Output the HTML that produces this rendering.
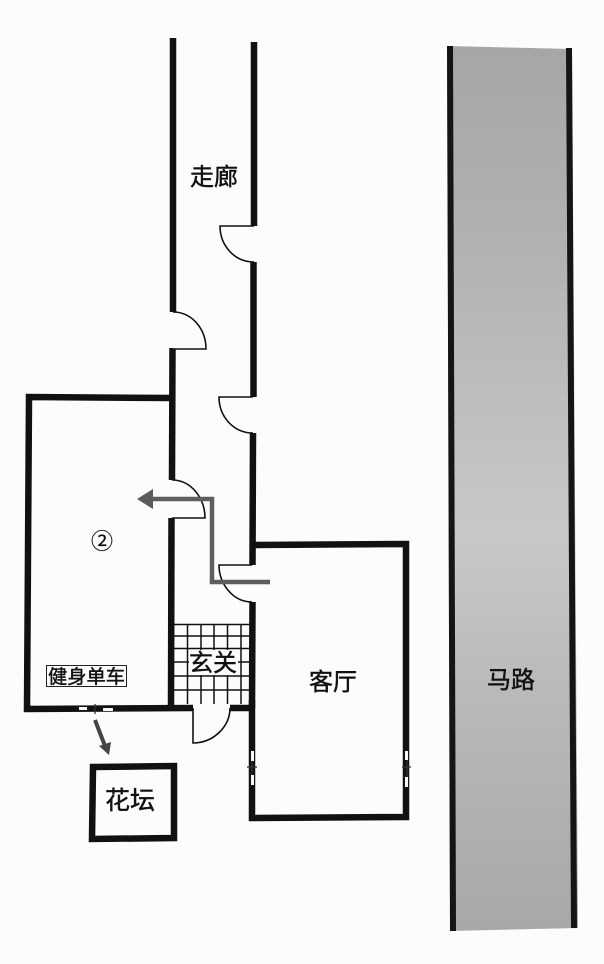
<!DOCTYPE html>
<html><head><meta charset="utf-8">
<style>
html,body{margin:0;padding:0;background:#fcfcfc;width:604px;height:964px;overflow:hidden}
svg{display:block}
text{font-family:"Liberation Sans","Noto Sans CJK SC",sans-serif;fill:#111;stroke:#111;stroke-width:.45px}
</style></head>
<body>
<svg width="604" height="964" viewBox="0 0 604 964" xmlns="http://www.w3.org/2000/svg">
<defs>
<linearGradient id="rd" x1="0" y1="0" x2="0" y2="1">
<stop offset="0" stop-color="#a6a6a6"/>
<stop offset="0.2" stop-color="#b0b0b0"/>
<stop offset="0.55" stop-color="#c8c8c8"/>
<stop offset="0.75" stop-color="#b8b8b8"/>
<stop offset="1" stop-color="#a8a8a8"/>
</linearGradient>
</defs>
<polygon points="447,46 572,49 578,928 450,931" fill="url(#rd)"/>
<g fill="none" stroke="#151515" stroke-width="6">
<line x1="450" y1="46" x2="453" y2="931"/>
<line x1="569" y1="48" x2="574" y2="928"/>
</g>
<!-- tiles -->
<g stroke="#111" stroke-width="1.5">
<line x1="187.5" y1="624" x2="187.5" y2="704"/><line x1="201" y1="624" x2="201" y2="704"/><line x1="214" y1="624" x2="214" y2="704"/><line x1="227.5" y1="624" x2="227.5" y2="704"/><line x1="241" y1="624" x2="241" y2="704"/>
<line x1="174" y1="624.5" x2="251" y2="624.5"/><line x1="174" y1="636" x2="251" y2="636"/><line x1="174" y1="648.5" x2="251" y2="648.5"/><line x1="174" y1="662" x2="251" y2="662"/><line x1="174" y1="676" x2="251" y2="676"/><line x1="174" y1="690" x2="251" y2="690"/>
</g>
<rect x="189" y="650" width="49" height="25" fill="#fcfcfc"/>
<!-- walls -->
<g fill="none" stroke="#111" stroke-width="6.5" stroke-linecap="butt" stroke-linejoin="miter">
<line x1="173" y1="38" x2="173" y2="312"/>
<line x1="172.5" y1="348" x2="172" y2="480"/>
<line x1="171.5" y1="518" x2="171" y2="710"/>
<line x1="254" y1="42" x2="254" y2="226"/>
<line x1="253.5" y1="262" x2="253.5" y2="397"/>
<line x1="253" y1="433" x2="252.5" y2="565"/>
<line x1="252.5" y1="602" x2="252" y2="708"/>
<polyline points="171,398 29,397 27,709 193,708"/>
<line x1="230" y1="708" x2="252" y2="708"/>
<polyline points="253,545 406,544 406,817 252,818 252,700"/>
<polygon points="93,767 174,766 174,838 92,839"/>
</g>
<!-- doors -->
<g fill="#fcfcfc" stroke="#111" stroke-width="1.6">
<path d="M254,226 H220 C220,245 234,262 254,262"/>
<path d="M173,312 C192,312 206,329 206,349 H173"/>
<path d="M253,397 H219 C219,416 233,433 253,433"/>
<path d="M172,480 C191,480 205,498 205,518 H172"/>
<path d="M252,565 H219 C219,584 233,602 252,602"/>
<path d="M193,708 V743 C213,743 230,727 230,708"/>
</g>
<!-- windows -->
<g fill="#f6f6f6" stroke="none">
<rect x="79" y="707" width="8" height="3"/><rect x="103" y="708" width="10" height="3"/>
<rect x="251" y="751" width="3" height="10"/><rect x="251" y="775" width="3" height="10"/>
<rect x="405" y="751" width="3" height="9"/><rect x="405" y="777" width="3" height="10"/>
</g>
<g stroke="#333" stroke-width="1.3" fill="none">
<line x1="95" y1="704" x2="95" y2="714"/>
<line x1="247" y1="767" x2="257" y2="767"/>
<line x1="402" y1="767" x2="411" y2="767"/>
<line x1="252" y1="761" x2="252" y2="775"/><line x1="407" y1="760" x2="407" y2="777"/>
</g>
<!-- entry arrow -->
<polyline points="270,582 212,582 212,499 152,499" fill="none" stroke="#5e5e5e" stroke-width="4.5"/>
<polygon points="137,499 153,489 153,509" fill="#5a5a5a"/>
<!-- small arrow -->
<line x1="95" y1="720" x2="105" y2="746" stroke="#444" stroke-width="4"/>
<polygon points="109,755 99,746 111,742" fill="#444"/>
<!-- label box -->
<rect x="46.5" y="665.5" width="80" height="21" fill="#fcfcfc" stroke="#222" stroke-width="1"/>
<text x="86.5" y="683" font-size="19" text-anchor="middle" textLength="77" lengthAdjust="spacingAndGlyphs">健身单车</text>
<text x="102" y="549" font-size="22" text-anchor="middle" style="stroke-width:.2px">②</text>
<text x="214" y="185" font-size="24" text-anchor="middle">走廊</text>
<text x="333" y="690" font-size="24" text-anchor="middle">客厅</text>
<text x="511" y="688" font-size="24" text-anchor="middle">马路</text>
<text x="130" y="809" font-size="25" text-anchor="middle">花坛</text>
<text x="213" y="671" font-size="24" text-anchor="middle">玄关</text>
</svg>
</body></html>
